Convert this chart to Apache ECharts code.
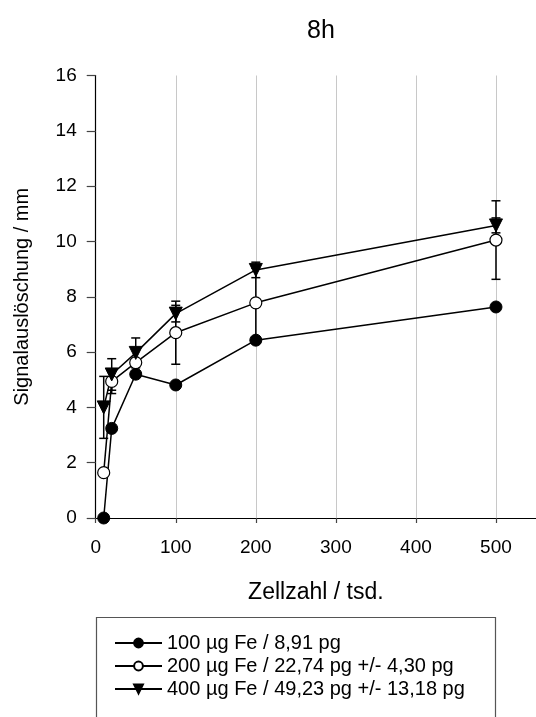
<!DOCTYPE html>
<html><head><meta charset="utf-8">
<script src="https://cdn.jsdelivr.net/npm/echarts@6/dist/echarts.min.js"></script>
<style>html,body{margin:0;padding:0;background:#fff}#c{width:536px;height:717px}</style>
</head><body><div id="c"></div>
<script>
// Data
const cellCounts = [10, 20, 50, 100, 200, 500];           // Zellzahl / tsd.
const fe100 = [0, 3.24, 5.2, 4.81, 6.43, 7.63];
const fe200 = [1.64, 4.94, 5.62, 6.70, 7.78, 10.05];
const fe200Err = [0, 0.44, 0, 1.14, 1.25, 1.42];
const fe400 = [4.0, 5.19, 5.97, 7.39, 8.97, 10.58];
const fe400Err = [1.12, 0.57, 0.54, 0.30, 0.28, 0.27];
const seriesNames = [
  '100 µg Fe / 8,91 pg',
  '200 µg Fe / 22,74 pg +/- 4,30 pg',
  '400 µg Fe / 49,23 pg +/- 13,18 pg'
];
const titleText = '8h';
const xName = 'Zellzahl / tsd.';
const yName = 'Signalauslöschung / mm';

const FONT = '"Liberation Sans", Arial, sans-serif';
const pairs = (ys) => cellCounts.map((x, i) => [x, ys[i]]);
const errData = (ys, es) => cellCounts.map((x, i) => [x, ys[i], es[i]]).filter(d => d[2] > 0);

function errRender(params, api) {
  const x = api.value(0), y = api.value(1), e = api.value(2);
  const hi = api.coord([x, y + e]);
  const lo = api.coord([x, y - e]);
  const hw = 4.5;
  const st = { stroke: '#000', lineWidth: 1.5 };
  return {
    type: 'group',
    children: [
      { type: 'line', shape: { x1: hi[0], y1: hi[1], x2: lo[0], y2: lo[1] }, style: st },
      { type: 'line', shape: { x1: hi[0] - hw, y1: hi[1], x2: hi[0] + hw, y2: hi[1] }, style: st },
      { type: 'line', shape: { x1: lo[0] - hw, y1: lo[1], x2: lo[0] + hw, y2: lo[1] }, style: st }
    ]
  };
}

const chart = echarts.init(document.getElementById('c'), null, { renderer: 'canvas' });
const lineBase = {
  type: 'line',
  lineStyle: { color: '#000', width: 1.5 },
  itemStyle: { color: '#000', borderColor: '#000', borderWidth: 1.2 },
  emphasis: { disabled: true },
  animation: false,
  z: 3
};
chart.setOption({
  animation: false,
  backgroundColor: '#fff',
  textStyle: { fontFamily: FONT, color: '#000' },
  title: {
    text: titleText, left: 316, top: 14, textAlign: 'center',
    textStyle: { fontFamily: FONT, fontSize: 25, fontWeight: 'normal', color: '#000' }
  },
  grid: { left: 95.7, right: -3.3, top: 75.5, bottom: 199 },
  xAxis: [{
    type: 'value', min: 0, max: 550, interval: 100,
    name: xName, nameLocation: 'middle', nameGap: 63,
    nameTextStyle: { fontFamily: FONT, fontSize: 23, color: '#000' },
    axisLine: { show: true, onZero: false, lineStyle: { color: '#444', width: 1.2 } },
    axisTick: { show: true, length: 5, lineStyle: { color: '#444', width: 1.2 } },
    axisLabel: { fontFamily: FONT, fontSize: 19, color: '#000', margin: 20, showMaxLabel: false },
    splitLine: { show: true, lineStyle: { color: '#c8c8c8', width: 1 } }
  }, {
    type: 'value', min: 0, max: 550, position: 'top',
    axisLine: { show: true, lineStyle: { color: '#000', width: 1.2 } },
    axisTick: { show: false }, axisLabel: { show: false }, splitLine: { show: false }
  }],
  yAxis: {
    type: 'value', min: 0, max: 16, interval: 2,
    name: yName, nameLocation: 'middle', nameGap: 63, nameRotate: 90,
    nameTextStyle: { fontFamily: FONT, fontSize: 20, color: '#000' },
    axisLine: { show: true, lineStyle: { color: '#000', width: 1.2 } },
    axisTick: { show: true, length: 9, lineStyle: { color: '#444', width: 1.2 } },
    axisLabel: { fontFamily: FONT, fontSize: 19, color: '#000', margin: 19 },
    splitLine: { show: false }
  },
  legend: {
    orient: 'vertical', left: 109, top: 628,
    itemWidth: 47, itemHeight: 11, itemGap: 3,
    textStyle: { fontFamily: FONT, fontSize: 20, color: '#000', lineHeight: 20 },
    data: seriesNames
  },
  graphic: [{
    type: 'rect', left: 94, top: 615, silent: true,
    shape: { width: 399, height: 130 },
    style: { fill: 'none', stroke: '#555', lineWidth: 1.2 }
  }],
  series: [
    {
      type: 'custom', renderItem: errRender, data: errData(fe200, fe200Err),
      encode: { x: 0, y: 1 }, z: 2, silent: true
    },
    {
      type: 'custom', renderItem: errRender, data: errData(fe400, fe400Err),
      encode: { x: 0, y: 1 }, z: 2, silent: true
    },
    Object.assign({}, lineBase, {
      name: seriesNames[0], data: pairs(fe100), symbol: 'circle', symbolSize: 12,
      itemStyle: { color: '#000', borderColor: '#000', borderWidth: 1 }
    }),
    Object.assign({}, lineBase, {
      name: seriesNames[1], data: pairs(fe200), symbol: 'circle', symbolSize: 12,
      itemStyle: { color: '#fff', borderColor: '#000', borderWidth: 1.2 }
    }),
    Object.assign({}, lineBase, {
      name: seriesNames[2], data: pairs(fe400), symbol: 'triangle', symbolSize: 13, symbolRotate: 180,
      itemStyle: { color: '#000', borderColor: '#000', borderWidth: 1 }
    })
  ]
});
</script></body></html>
